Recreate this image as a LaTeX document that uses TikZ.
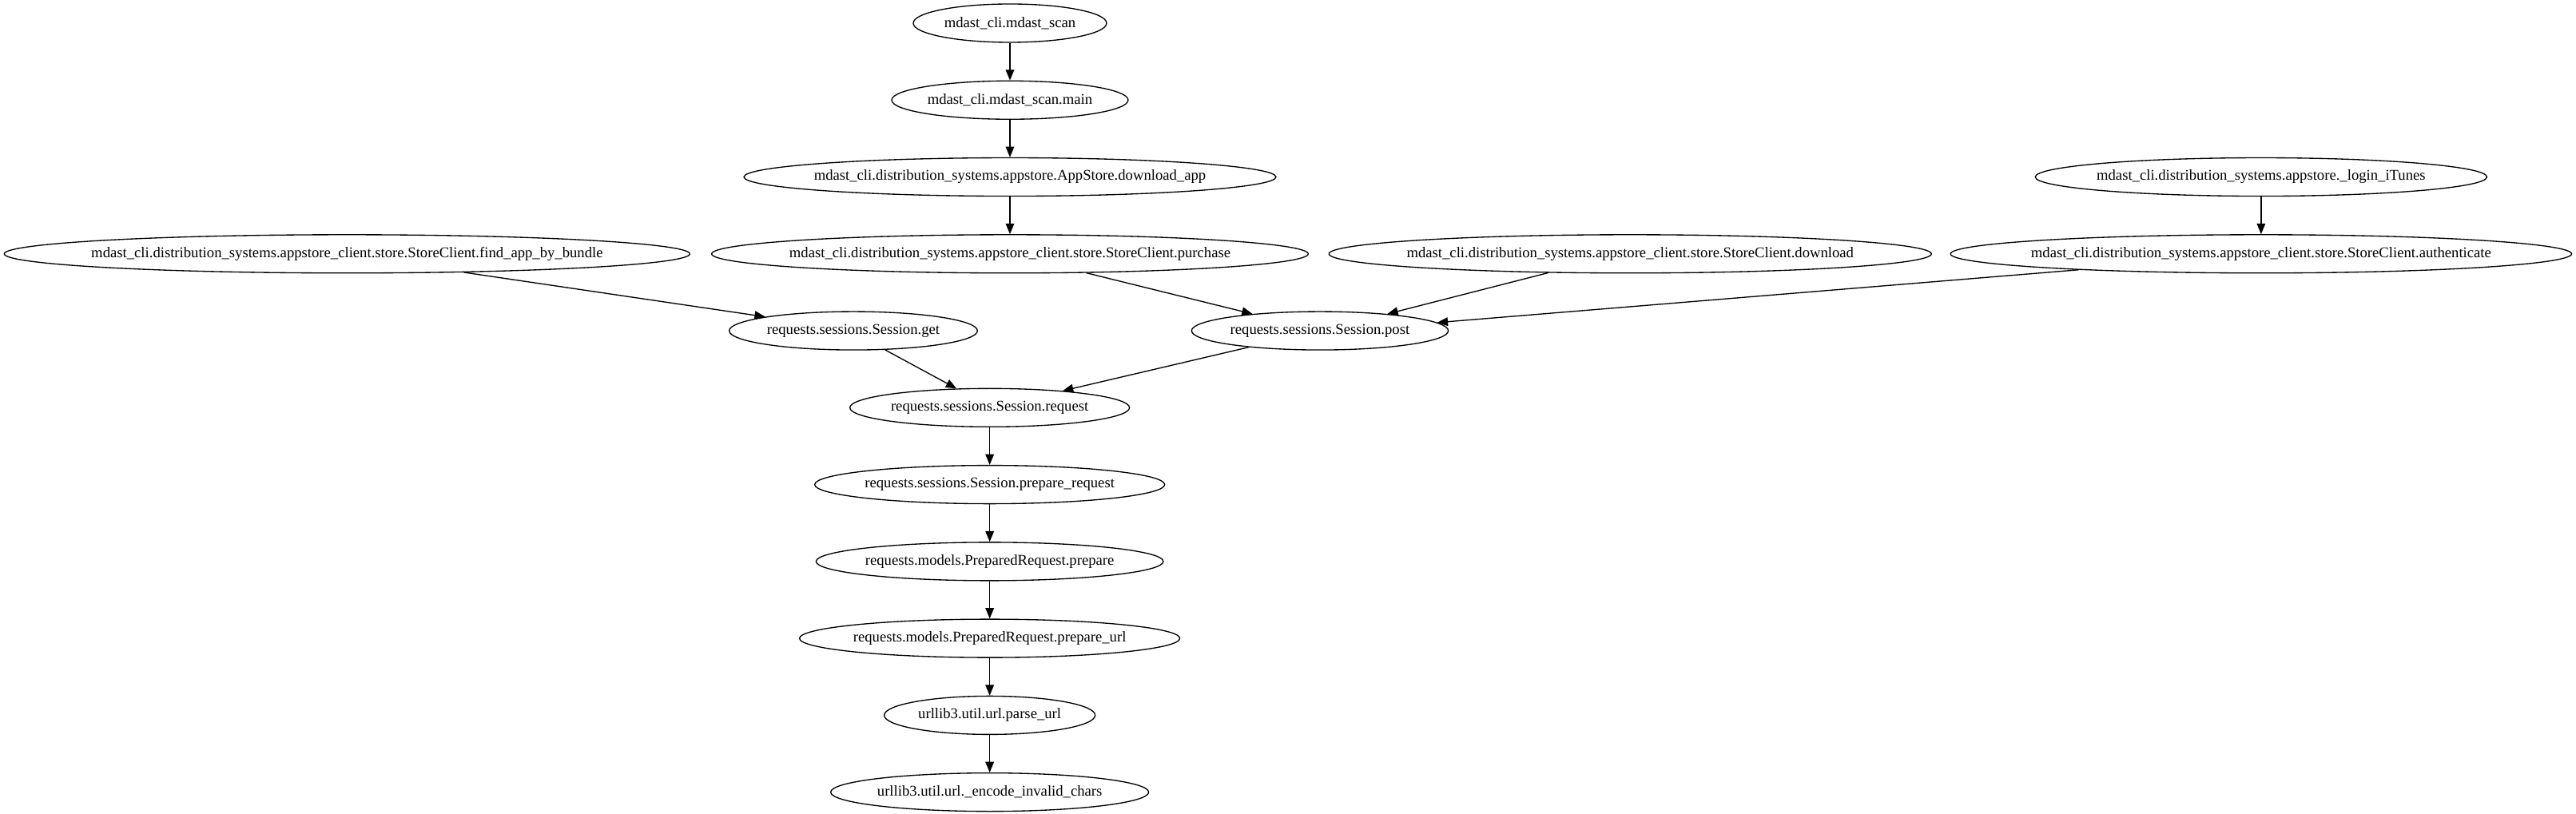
\documentclass[tikz,border=0pt]{standalone}
\usepackage{fontspec}
\setmainfont{Liberation Serif}
\usetikzlibrary{shapes.geometric,arrows.meta,positioning}
\begin{document}
\begin{tikzpicture}[node distance=72.2pt]
\tikzstyle{oval} = [ellipse, draw=black, line width=1pt, inner xsep=-40pt, inner ysep=0pt, minimum height=36pt, font=\fontsize{14}{16}\selectfont]
\tikzstyle{arrow} = [line width=1pt,-{Triangle[length=10pt,width=8pt]}]
\useasboundingbox (-948pt,21.75pt) rectangle (1470pt,-742.5pt);
%
\node (1) [oval, minimum width=181.5pt] {mdast\_cli.mdast\_scan};
\node (2) [oval, minimum width=222pt, below of=1]                  {mdast\_cli.mdast\_scan.main};
\node (3) [oval, minimum width=499.5pt, below of=2]                {mdast\_cli.distribution\_systems.appstore.AppStore.download\_app};
\node (4) [oval, minimum width=560pt, below of=3]                  {mdast\_cli.distribution\_systems.appstore\_client.store.StoreClient.purchase};
\node (5) [oval, minimum width=643.5pt, left of=4, xshift=-550pt]  {mdast\_cli.distribution\_systems.appstore\_client.store.StoreClient.find\_app\_by\_bundle};
\node (6) [oval, minimum width=565.5pt, right of=4, xshift=510pt]  {mdast\_cli.distribution\_systems.appstore\_client.store.StoreClient.download};
\node (7) [oval, minimum width=583pt, right of=6, xshift=520pt]    {mdast\_cli.distribution\_systems.appstore\_client.store.StoreClient.authenticate};
\node (8) [oval, minimum width=424pt, above of=7]                  {mdast\_cli.distribution\_systems.appstore.\_login\_iTunes};
\node (9) [oval, minimum width=233pt, below of=4, xshift=-147pt]   {requests.sessions.Session.get};
\node (10) [oval, minimum width=241pt, below of=4, xshift=291pt]   {requests.sessions.Session.post};
\node (11) [oval, minimum width=262.5pt, below of=9, xshift=128pt] {requests.sessions.Session.request};
\node (12) [oval, minimum width=328.5pt, below of=11]              {requests.sessions.Session.prepare\_request};
\node (13) [oval, minimum width=326pt, below of=12]                {requests.models.PreparedRequest.prepare};
\node (14) [oval, minimum width=357pt, below of=13]                {requests.models.PreparedRequest.prepare\_url};
\node (15) [oval, minimum width=198pt, below of=14]                {urllib3.util.url.parse\_url};
\node (16) [oval, minimum width=298.5pt, below of=15]              {urllib3.util.url.\_encode\_invalid\_chars};
%
\draw [arrow] (1) -- (2);
\draw [arrow] (2) -- (3);
\draw [arrow] (3) -- (4);
\draw [arrow] (8) -- (7);
\draw [arrow] (5.-9) -- (9.171);
\draw [arrow] (4.-14) -- (10.166);
\draw [arrow] (6.193) -- (10.14);
\draw [arrow] (7.185) -- (10.4);
\draw [arrow] (9.-31) -- (11.150);
\draw [arrow] (10.193) -- (11.13);
\draw [arrow] (11) -- (12);
\draw [arrow] (12) -- (13);
\draw [arrow] (13) -- (14);
\draw [arrow] (14) -- (15);
\draw [arrow] (15) -- (16);
\end{tikzpicture}
\end{document}
